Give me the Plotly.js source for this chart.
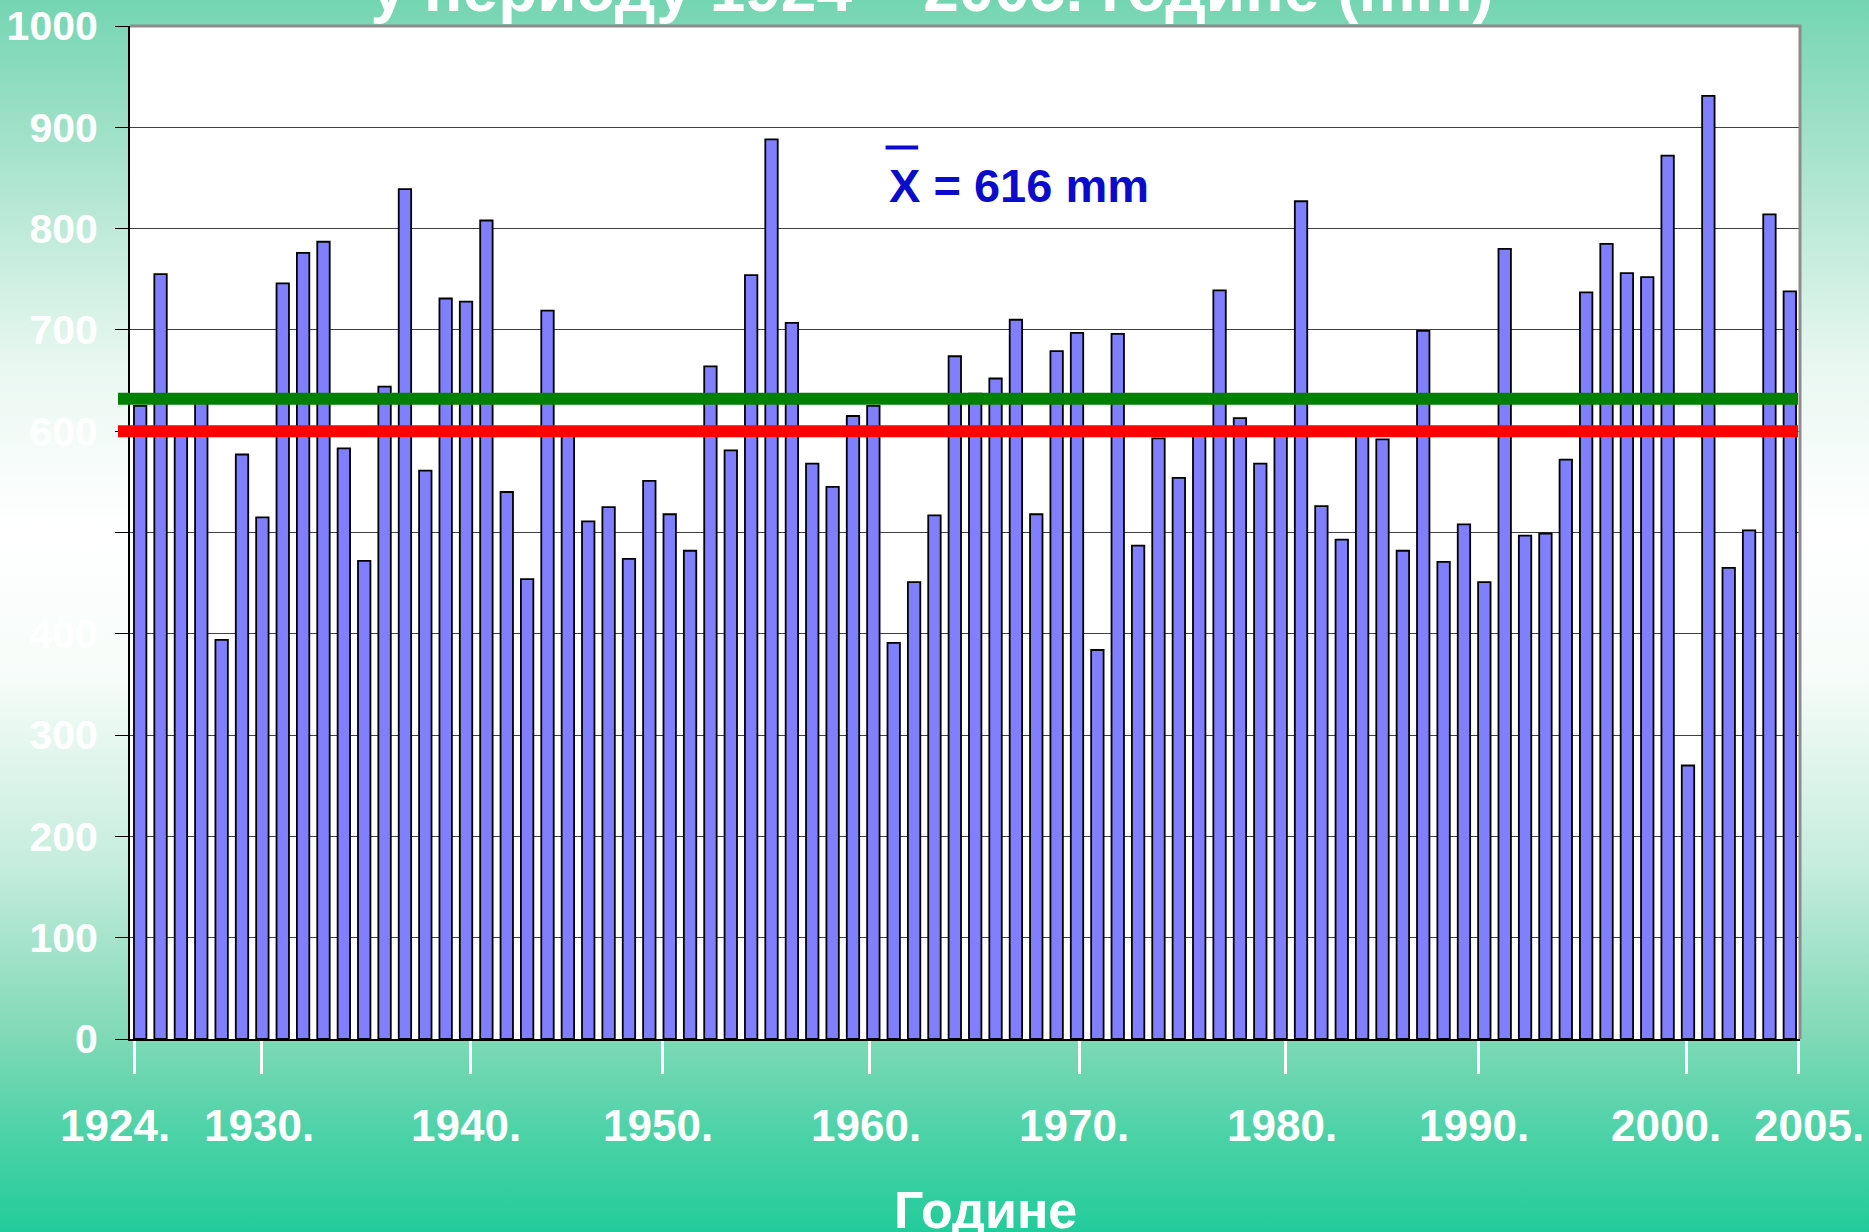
<!DOCTYPE html>
<html>
<head>
<meta charset="utf-8">
<script src="https://cdn.plot.ly/plotly-3.0.1.min.js"></script>
<style>
  html, body { margin: 0; padding: 0; }
  body {
    width: 1869px; height: 1232px; overflow: hidden;
    background: linear-gradient(to bottom,
      #74D5B2 0%, #B0E6D1 15%, #EAF8F2 30%, #FFFFFF 43%, #F6FCF9 55%,
      #C6EDDE 70%, #80D9B7 84%, #4DD2A7 92%, #22CC9A 100%);
  }
  #chart { width: 1869px; height: 1232px; }
</style>
</head>
<body>
<div id="chart"></div>
<script>
// ---- data ----
const years = [1924,1925,1926,1927,1928,1929,1930,1931,1932,1933,
               1934,1935,1936,1937,1938,1939,1940,1941,1942,1943,
               1944,1945,1946,1947,1948,1949,1950,1951,1952,1953,
               1954,1955,1956,1957,1958,1959,1960,1961,1962,1963,
               1964,1965,1966,1967,1968,1969,1970,1971,1972,1973,
               1974,1975,1976,1977,1978,1979,1980,1981,1982,1983,
               1984,1985,1986,1987,1988,1989,1990,1991,1992,1993,
               1994,1995,1996,1997,1998,1999,2000,2001,2002,2003,
               2004,2005];
const precipitation = [625,755,601,630,394,577,515,746,776,787,
                       583,472,644,839,561,731,728,808,540,454,
                       719,603,511,525,474,551,518,482,664,581,
                       754,888,707,568,545,615,625,391,451,517,
                       674,637,652,710,518,679,697,384,696,487,
                       593,554,599,739,613,568,604,827,526,493,
                       600,592,482,699,471,508,451,780,497,499,
                       572,737,785,756,752,872,270,931,465,502,
                       814,738];
const greenLine = 632;
const redLine = 600;
const meanValue = 616;
const tickLabels = ["1924.","1930.","1940.","1950.","1960.","1970.","1980.","1990.","2000.","2005."];
const yTicks = [0,100,200,300,400,500,600,700,800,900,1000];
const titleText = "у периоду 1924 – 2005. године (mm)";
const xTitleText = "Године";

// ---- layout-only positions (tick marks and year labels along the axis) ----
const xRange = [1923.5, 2005.5];
const tickPositions = [1923.73,1929.98,1940.24,1949.67,1959.83,1970.1,1980.26,1989.69,1999.95,2005.45];
const labelPositions = [1922.75,1929.85,1940.0,1949.45,1959.65,1969.85,1980.05,1989.5,1998.9,2005.95];

const FONT = "Liberation Sans, Arial, sans-serif";

const trace = {
  type: 'bar',
  x: years,
  y: precipitation,
  marker: { color: '#8080FF', line: { color: '#000000', width: 1.8 } },
  hoverinfo: 'x+y'
};

const yearLabelAnnotations = tickLabels.map((t, i) => ({
  text: t, xref: 'paper', yref: 'paper',
  x: (labelPositions[i] - xRange[0]) / (xRange[1] - xRange[0]), y: -0.085,
  xanchor: 'center', yanchor: 'middle', showarrow: false,
  font: { family: FONT, size: 44, color: '#FFFFFF', weight: 'bold' }
}));

const layout = {
  width: 1869, height: 1232,
  margin: { l: 130, r: 69, t: 26, b: 193, pad: 0 },
  paper_bgcolor: 'rgba(0,0,0,0)',
  plot_bgcolor: '#FFFFFF',
  showlegend: false,
  bargap: 0.39,
  title: {
    text: titleText,
    font: { family: FONT, size: 64, color: '#FFFFFF', weight: 'bold' },
    x: 0.4987, xanchor: 'center', xref: 'container',
    y: 0.991, yanchor: 'bottom', yref: 'container'
  },
  xaxis: {
    range: xRange,
    tickmode: 'array', tickvals: tickPositions,
    showticklabels: false,
    ticks: 'outside', ticklen: 33, tickwidth: 3, tickcolor: '#FFFFFF',
    showline: true, linecolor: '#000000', linewidth: 2,
    showgrid: false, zeroline: false
  },
  yaxis: {
    range: [0, 1000],
    tickmode: 'array', tickvals: yTicks,
    ticks: 'outside', ticklen: 13, tickwidth: 1, tickcolor: '#000000',
    showline: true, linecolor: '#000000', linewidth: 2,
    showgrid: true, gridcolor: '#404040', gridwidth: 1,
    zeroline: false,
    tickfont: { family: FONT, size: 41, color: '#FFFFFF', weight: 'bold' },
    ticklabelstandoff: 9
  },
  shapes: [
    { type: 'path', xref: 'paper', yref: 'paper', path: 'M 0 1 L 1 1 L 1 0',
      line: { color: '#8C8C8C', width: 3 } },
    { type: 'line', xref: 'paper', yref: 'y', x0: -0.0072, x1: 0.9988,
      y0: greenLine, y1: greenLine, line: { color: '#008000', width: 12 } },
    { type: 'line', xref: 'paper', yref: 'y', x0: -0.0072, x1: 0.9988,
      y0: redLine, y1: redLine, line: { color: '#FF0000', width: 12 } },
    { type: 'line', xref: 'x', yref: 'y', x0: 1960.6, x1: 1962.2,
      y0: 880, y1: 880, line: { color: '#0B0BCB', width: 4 } }
  ],
  annotations: [
    { text: 'X = ' + meanValue + ' mm', xref: 'x', yref: 'y',
      x: 1960.65, y: 843, xanchor: 'left', yanchor: 'middle', showarrow: false,
      font: { family: FONT, size: 47, color: '#0B0BCB', weight: 'bold' } },
    { text: xTitleText, xref: 'paper', yref: 'paper',
      x: 0.512, y: -0.199, xanchor: 'center', yanchor: 'bottom', showarrow: false,
      font: { family: FONT, size: 52, color: '#FFFFFF', weight: 'bold' } }
  ].concat(yearLabelAnnotations)
};

Plotly.newPlot('chart', [trace], layout, { displayModeBar: false, staticPlot: true });
</script>
</body>
</html>
